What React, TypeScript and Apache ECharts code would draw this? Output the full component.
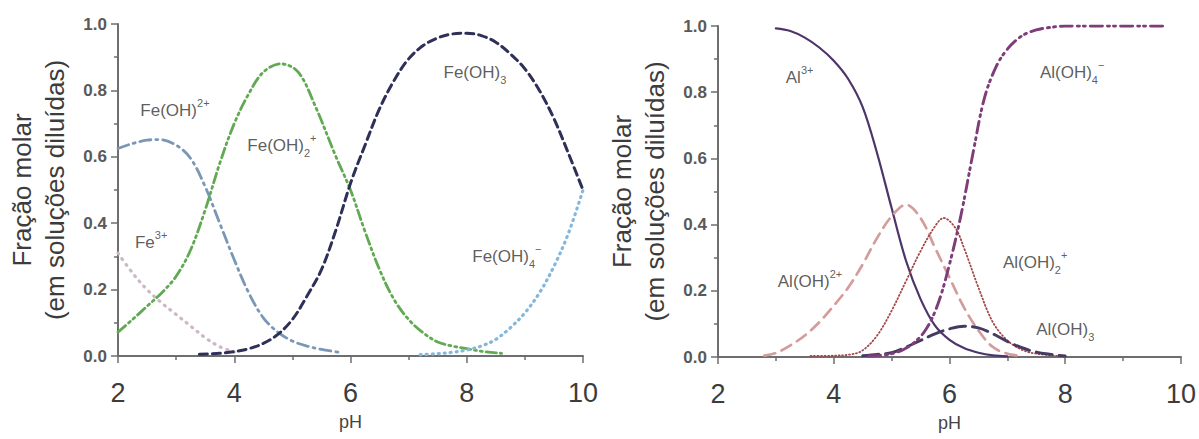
import React, { useEffect, useRef } from "react";
import * as echarts from "echarts";

const FONT = "'Liberation Sans', Arial, Helvetica, sans-serif";

// ---------- Fe panel (pH, molar fraction) ----------
const feIII: number[][] = [
  [2, 0.31], [2.25, 0.25], [2.5, 0.2], [2.75, 0.16], [3, 0.125], [3.25, 0.09],
  [3.5, 0.055], [3.75, 0.028], [4, 0.012],
];
const feOH: number[][] = [
  [2, 0.625], [2.25, 0.64], [2.5, 0.65], [2.7, 0.652], [3, 0.635], [3.25, 0.595],
  [3.5, 0.51], [3.75, 0.4], [4, 0.29], [4.25, 0.19], [4.5, 0.115], [4.75, 0.072],
  [5, 0.045], [5.25, 0.03], [5.5, 0.02], [5.85, 0.01],
];
const feOH2: number[][] = [
  [2, 0.072], [2.25, 0.11], [2.5, 0.15], [2.75, 0.19], [3, 0.24], [3.25, 0.32],
  [3.5, 0.44], [3.75, 0.58], [4, 0.7], [4.25, 0.79], [4.5, 0.855], [4.8, 0.88],
  [5.1, 0.855], [5.4, 0.75], [5.75, 0.6], [6, 0.5], [6.25, 0.375], [6.5, 0.26],
  [6.75, 0.17], [7, 0.11], [7.25, 0.07], [7.5, 0.042], [7.75, 0.03], [8, 0.022],
  [8.3, 0.013], [8.6, 0.008],
];
const feOH3: number[][] = [
  [3.4, 0.005], [3.75, 0.008], [4, 0.013], [4.25, 0.022], [4.5, 0.038], [4.75, 0.065],
  [5, 0.11], [5.25, 0.18], [5.5, 0.26], [5.75, 0.38], [6, 0.52], [6.25, 0.635],
  [6.5, 0.745], [6.75, 0.83], [7, 0.895], [7.25, 0.935], [7.5, 0.958], [7.75, 0.97],
  [8, 0.972], [8.25, 0.965], [8.5, 0.945], [8.75, 0.91], [9, 0.865], [9.25, 0.8],
  [9.5, 0.715], [9.75, 0.61], [10, 0.5],
];
const feOH4: number[][] = [
  [7.2, 0.004], [7.5, 0.007], [7.75, 0.011], [8, 0.018], [8.25, 0.03], [8.5, 0.05],
  [8.75, 0.085], [9, 0.13], [9.25, 0.19], [9.5, 0.27], [9.75, 0.37], [10, 0.5],
];

// ---------- Al panel ----------
const alIII: number[][] = [
  [3, 0.993], [3.25, 0.985], [3.5, 0.965], [3.75, 0.935], [4, 0.895], [4.25, 0.84],
  [4.5, 0.755], [4.75, 0.615], [5, 0.45], [5.25, 0.29], [5.5, 0.175], [5.75, 0.095],
  [6, 0.052], [6.25, 0.027], [6.5, 0.013], [6.75, 0.005], [7, 0.002],
];
const alOH: number[][] = [
  [2.8, 0.004], [3, 0.012], [3.25, 0.035], [3.5, 0.065], [3.75, 0.105], [4, 0.155],
  [4.25, 0.21], [4.5, 0.28], [4.75, 0.36], [5, 0.425], [5.25, 0.46], [5.5, 0.42],
  [5.75, 0.33], [6, 0.24], [6.25, 0.15], [6.5, 0.08], [6.75, 0.03], [7, 0.01], [7.2, 0.004],
];
const alOH2: number[][] = [
  [3.6, 0.003], [4, 0.004], [4.3, 0.008], [4.5, 0.02], [4.75, 0.065], [5, 0.14],
  [5.25, 0.23], [5.5, 0.32], [5.75, 0.395], [5.9, 0.42], [6.1, 0.39], [6.25, 0.33],
  [6.5, 0.21], [6.75, 0.105], [7, 0.05], [7.25, 0.022], [7.5, 0.01], [7.9, 0.003],
];
const alOH3: number[][] = [
  [4.5, 0.004], [4.75, 0.008], [5, 0.013], [5.25, 0.03], [5.5, 0.05], [5.75, 0.07],
  [6, 0.085], [6.25, 0.093], [6.5, 0.088], [6.75, 0.07], [7, 0.047], [7.25, 0.028],
  [7.5, 0.015], [7.75, 0.008], [8, 0.003],
];
const alOH4: number[][] = [
  [4.6, 0.003], [4.8, 0.005], [5, 0.01], [5.2, 0.022], [5.4, 0.045], [5.6, 0.085],
  [5.8, 0.16], [6, 0.28], [6.2, 0.43], [6.4, 0.61], [6.6, 0.78], [6.8, 0.875],
  [7, 0.93], [7.25, 0.97], [7.5, 0.988], [7.75, 0.996], [8, 1.0], [9.72, 1.0],
];

// ---------- species labels (pH, fraction, rich text) ----------
const feLabels: { x: number; y: number; text: string }[] = [
  { x: 2.57, y: 0.343, text: "{m|Fe}{sup|3+}" },
  { x: 2.98, y: 0.74, text: "{m|Fe(OH)}{sup|2+}" },
  { x: 4.82, y: 0.635, text: "{m|Fe(OH)}{sub|2}{sup|+}" },
  { x: 8.14, y: 0.855, text: "{m|Fe(OH)}{sub|3}" },
  { x: 8.69, y: 0.3, text: "{m|Fe(OH)}{sub|4}{sup|−}" },
];
const alLabels: { x: number; y: number; text: string }[] = [
  { x: 3.41, y: 0.843, text: "{m|Al}{sup|3+}" },
  { x: 3.59, y: 0.227, text: "{m|Al(OH)}{sup|2+}" },
  { x: 7.48, y: 0.284, text: "{m|Al(OH)}{sub|2}{sup|+}" },
  { x: 8.0, y: 0.082, text: "{m|Al(OH)}{sub|3}" },
  { x: 8.12, y: 0.86, text: "{m|Al(OH)}{sub|4}{sup|−}" },
];

const xTicks = { min: 2, max: 10, interval: 2 };
const yTicks = { min: 0, max: 1, interval: 0.2 };
const xName = "pH";
const yName = "Fração molar\n(em soluções diluídas)";

const AXIS_COLOR = "#6e6e6e";

function xAxis(gridIndex: number) {
  return {
    type: "value",
    gridIndex,
    min: xTicks.min,
    max: xTicks.max,
    interval: xTicks.interval,
    name: xName,
    nameLocation: "middle",
    nameGap: 57,
    nameTextStyle: { fontFamily: FONT, fontSize: 18, color: "#444" },
    axisLine: { show: true, onZero: false, lineStyle: { color: AXIS_COLOR, width: 2 } },
    axisTick: { show: true, length: 7, lineStyle: { color: AXIS_COLOR, width: 1.5 } },
    minorTick: { show: true, splitNumber: 2, length: 4, lineStyle: { color: AXIS_COLOR, width: 1.5 } },
    axisLabel: { fontFamily: FONT, fontSize: 27, color: "#3c3c3c", margin: 23 },
    splitLine: { show: false },
  };
}

function yAxis(gridIndex: number) {
  return {
    type: "value",
    gridIndex,
    min: yTicks.min,
    max: yTicks.max,
    interval: yTicks.interval,
    name: yName,
    nameLocation: "middle",
    nameGap: 47,
    nameTextStyle: { fontFamily: FONT, fontSize: 26, lineHeight: 33, color: "#3c3c3c" },
    axisLine: { show: true, lineStyle: { color: AXIS_COLOR, width: 2 } },
    axisTick: { show: true, length: 7, lineStyle: { color: AXIS_COLOR, width: 1.5 } },
    minorTick: { show: true, splitNumber: 2, length: 4, lineStyle: { color: AXIS_COLOR, width: 1.5 } },
    axisLabel: {
      fontFamily: FONT,
      fontSize: 17,
      fontWeight: "bold",
      color: "#595959",
      margin: 11,
      formatter: (v: number) => v.toFixed(1),
    },
    splitLine: { show: false },
  };
}

function line(idx: number, data: number[][], color: string, dash: any, width = 2.8) {
  return {
    type: "line",
    xAxisIndex: idx,
    yAxisIndex: idx,
    data,
    smooth: 0.35,
    showSymbol: false,
    symbol: "none",
    silent: true,
    lineStyle: { color, width, type: dash, cap: "round" },
    z: 3,
  };
}

const rich = {
  m: { fontFamily: FONT, fontSize: 17, color: "#333", lineHeight: 26 },
  sup: { fontFamily: FONT, fontSize: 11, color: "#333", verticalAlign: "top", lineHeight: 13 },
  sub: { fontFamily: FONT, fontSize: 11, color: "#333", verticalAlign: "bottom", lineHeight: 13 },
};

function labels(idx: number, items: { x: number; y: number; text: string }[]) {
  return {
    type: "scatter",
    xAxisIndex: idx,
    yAxisIndex: idx,
    symbolSize: 0,
    silent: true,
    z: 5,
    data: items.map((d) => ({ value: [d.x, d.y], text: d.text })),
    label: {
      show: true,
      position: "inside",
      formatter: (p: any) => p.data.text,
      rich,
    },
  };
}

export default function App() {
  const ref = useRef<HTMLDivElement>(null);
  useEffect(() => {
    if (!ref.current) return;
    const chart = echarts.init(ref.current, undefined, { renderer: "svg" });
    chart.setOption({
      animation: false,
      backgroundColor: "#ffffff",
      grid: [
        { left: 118, top: 24, width: 465, height: 332 },
        { left: 718, top: 26, width: 464, height: 331 },
      ],
      xAxis: [xAxis(0), xAxis(1)],
      yAxis: [yAxis(0), yAxis(1)],
      series: [
        line(0, feIII, "#cdb8c8", [1, 6], 3.2),
        line(0, feOH, "#7b97b6", [11, 5, 2, 5]),
        line(0, feOH2, "#62a954", [10, 4, 2, 4, 2, 4]),
        line(0, feOH3, "#2e3058", [8, 5], 3),
        line(0, feOH4, "#84b8da", [1, 5], 3.2),
        labels(0, feLabels),
        line(1, alIII, "#4d3569", "solid", 2.2),
        line(1, alOH, "#d49c9c", [11, 7], 2.7),
        line(1, alOH2, "#a34848", [1, 2.5], 1.8),
        line(1, alOH3, "#463a62", [16, 7], 2.9),
        line(1, alOH4, "#7e3c79", [12, 5, 2, 4, 2, 5], 2.9),
        labels(1, alLabels),
      ],
    });
    return () => chart.dispose();
  }, []);
  return (
    <div
      ref={ref}
      style={{ position: "fixed", left: 0, top: 0, width: 1199, height: 439, background: "#fff" }}
    />
  );
}
